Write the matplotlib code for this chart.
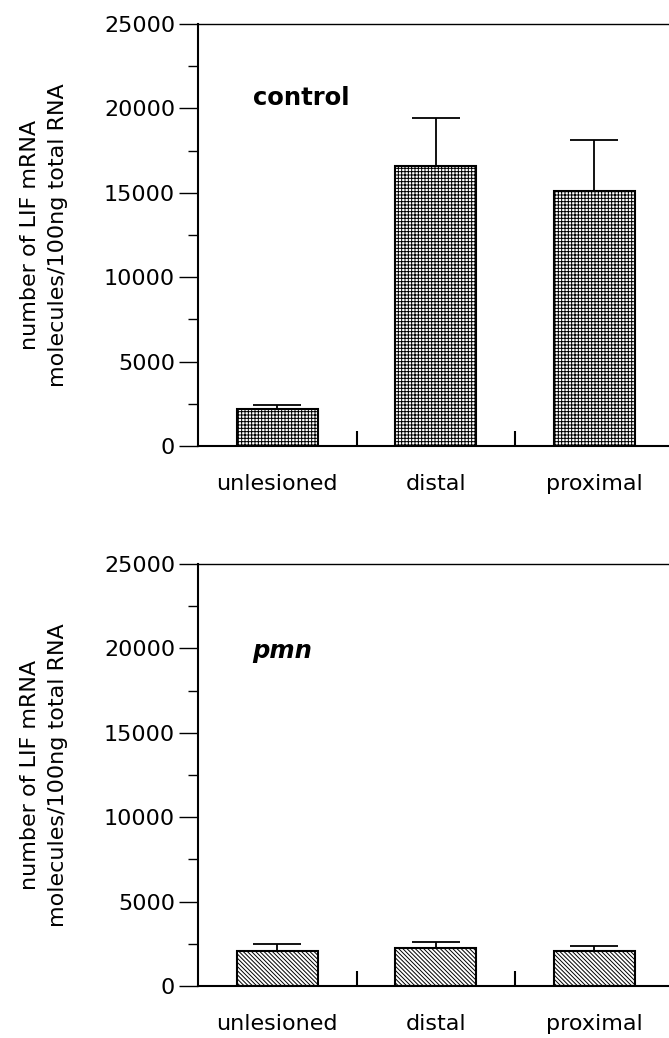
import matplotlib
matplotlib.use("Agg")
import matplotlib.pyplot as plt
from matplotlib.ticker import MultipleLocator, FixedLocator

plt.rcParams['font.family'] = ['DejaVu Sans']
plt.rcParams['hatch.linewidth'] = 0.7

categories = ["unlesioned", "distal", "proximal"]
control_values = [2190, 16600, 15120]
control_errors = [260, 2850, 3010]
pmn_values = [2080, 2240, 2100]
pmn_errors = [400, 340, 275]
yticks = [0, 5000, 10000, 15000, 20000, 25000]
ylabel = "number of LIF mRNA\nmolecules/100ng total RNA"

fig = plt.figure(figsize=(6.69, 10.38), dpi=100)
ax1 = fig.add_axes([0.296, 0.5703, 0.704, 0.4066])
ax2 = fig.add_axes([0.296, 0.0501, 0.704, 0.4066])

def draw(ax, vals, errs, hatch, label, label_style, label_y):
    x = list(range(len(categories)))
    ax.bar(x, vals, width=0.51, color='white', edgecolor='black',
           linewidth=1.5, hatch=hatch, zorder=2)
    ax.errorbar(x, vals, yerr=[[0]*len(errs), errs], fmt='none',
                ecolor='black', elinewidth=1.3, capsize=17.5, capthick=1.3, zorder=3)
    ax.set_xlim(-0.5, 2.47)
    ax.set_ylim(0, 25000)
    ax.set_yticks(yticks)
    ax.set_yticklabels([str(t) for t in yticks], fontsize=16)
    ax.yaxis.set_minor_locator(MultipleLocator(2500))
    ax.set_xticks(x)
    ax.set_xticklabels(categories, fontsize=16)
    ax.xaxis.set_minor_locator(FixedLocator([0.5, 1.5]))
    ax.tick_params(axis='x', which='major', length=0, pad=20)
    ax.tick_params(axis='x', which='minor', direction='in', length=11, width=1.5)
    ax.tick_params(axis='y', which='major', length=13.5, width=1.0, pad=3)
    ax.tick_params(axis='y', which='minor', length=7.5, width=1.0)
    ax.spines['right'].set_visible(False)
    ax.spines['top'].set_linewidth(1.0)
    ax.spines['left'].set_linewidth(1.5)
    ax.spines['bottom'].set_linewidth(1.5)
    ax.set_ylabel(ylabel, fontsize=16, labelpad=26, linespacing=1.5)
    ax.text(-0.155, label_y, label, fontsize=17.5, ha='left', va='baseline', **label_style)

draw(ax1, control_values, control_errors, '+++++', 'control',
     dict(fontweight='bold'), 20200)
draw(ax2, pmn_values, pmn_errors, '\\\\\\\\\\\\\\\\', 'pmn',
     dict(fontweight='bold', fontstyle='italic'), 19430)

fig.savefig('out.png', dpi=100)
